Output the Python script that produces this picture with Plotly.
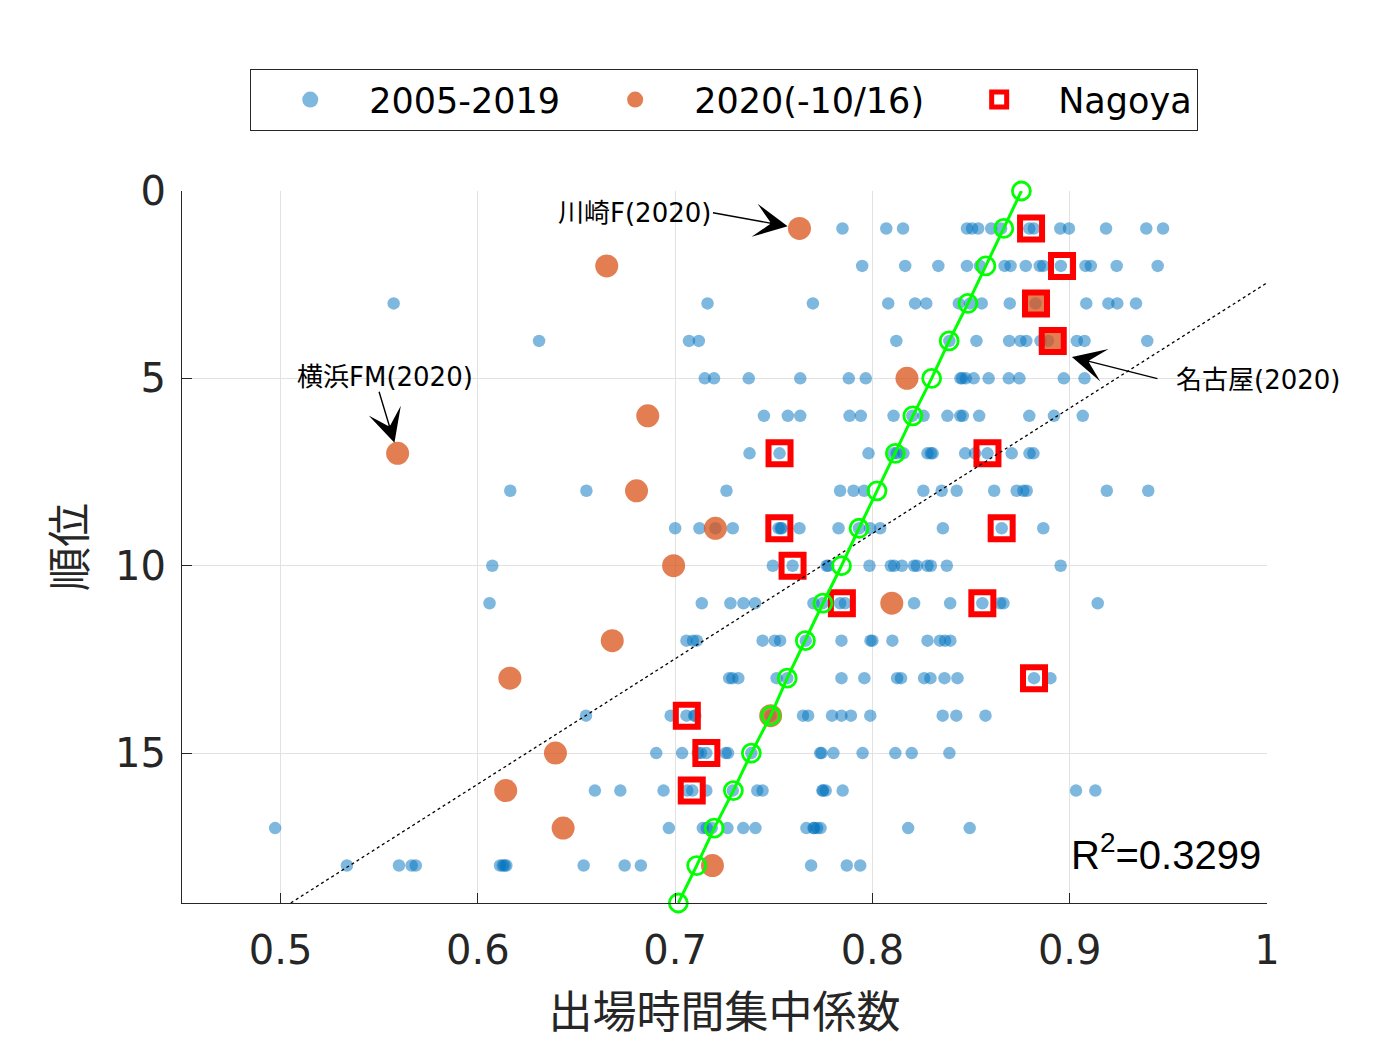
import plotly.graph_objects as go

# ---------------- data ----------------
ranks = list(range(1, 19))

# 2005-2019 points, one list per rank (1..18)
blue_rows = [
    [0.7848, 0.8070, 0.8155, 0.8479, 0.8505, 0.8536, 0.8602, 0.8652, 0.8795, 0.8818, 0.8952, 0.8996, 0.9184, 0.9388, 0.9473],
    [0.7948, 0.8166, 0.8334, 0.8479, 0.8545, 0.8670, 0.8700, 0.8777, 0.8848, 0.8866, 0.8955, 0.9080, 0.9107, 0.9238, 0.9446],
    [0.5573, 0.7164, 0.7698, 0.8080, 0.8216, 0.8273, 0.8438, 0.8495, 0.8554, 0.8696, 0.8827, 0.9084, 0.9196, 0.9241, 0.9336],
    [0.6310, 0.7070, 0.7120, 0.8121, 0.8390, 0.8527, 0.8693, 0.8750, 0.8780, 0.8852, 0.8890, 0.9036, 0.9075, 0.9393],
    [0.7150, 0.7197, 0.7373, 0.7634, 0.7880, 0.7966, 0.8446, 0.8455, 0.8473, 0.8513, 0.8589, 0.8691, 0.8745, 0.8970, 0.9075],
    [0.7450, 0.7571, 0.7634, 0.7884, 0.7941, 0.8107, 0.8202, 0.8259, 0.8380, 0.8445, 0.8458, 0.8541, 0.8795, 0.8920, 0.9066],
    [0.7377, 0.7529, 0.7980, 0.8108, 0.8123, 0.8157, 0.8279, 0.8296, 0.8305, 0.8470, 0.8520, 0.8583, 0.8706, 0.8796, 0.8816],
    [0.6164, 0.6550, 0.7260, 0.7836, 0.7904, 0.7958, 0.8258, 0.8351, 0.8427, 0.8617, 0.8731, 0.8765, 0.8782, 0.9188, 0.9398],
    [0.7000, 0.7123, 0.7204, 0.7292, 0.7524, 0.7535, 0.7540, 0.7630, 0.7828, 0.7932, 0.7988, 0.8039, 0.8357, 0.8655, 0.8866],
    [0.6073, 0.7495, 0.7595, 0.7768, 0.7776, 0.7985, 0.8093, 0.8110, 0.8149, 0.8211, 0.8225, 0.8279, 0.8296, 0.8377, 0.8954],
    [0.6059, 0.7135, 0.7280, 0.7346, 0.7405, 0.7701, 0.7746, 0.7836, 0.7861, 0.8211, 0.8394, 0.8557, 0.8647, 0.8664, 0.9142],
    [0.7057, 0.7090, 0.7110, 0.7443, 0.7505, 0.7532, 0.7662, 0.7843, 0.7990, 0.8000, 0.8101, 0.8279, 0.8342, 0.8368, 0.8395],
    [0.7274, 0.7290, 0.7320, 0.7514, 0.7568, 0.7843, 0.7959, 0.8125, 0.8145, 0.8262, 0.8294, 0.8365, 0.8431, 0.8819, 0.8902],
    [0.6548, 0.6977, 0.7057, 0.7096, 0.7102, 0.7484, 0.7648, 0.7674, 0.7795, 0.7843, 0.7891, 0.7989, 0.8356, 0.8425, 0.8573],
    [0.6904, 0.7035, 0.7115, 0.7130, 0.7158, 0.7256, 0.7268, 0.7386, 0.7735, 0.7742, 0.7802, 0.7950, 0.8116, 0.8199, 0.8390],
    [0.6593, 0.6722, 0.6941, 0.7061, 0.7087, 0.7158, 0.7292, 0.7416, 0.7443, 0.7746, 0.7750, 0.7763, 0.7849, 0.9032, 0.9130],
    [0.4972, 0.6968, 0.7140, 0.7160, 0.7185, 0.7265, 0.7345, 0.7407, 0.7665, 0.7701, 0.7705, 0.7720, 0.7737, 0.8181, 0.8493],
    [0.5336, 0.5600, 0.5664, 0.5685, 0.6112, 0.6126, 0.6135, 0.6144, 0.6536, 0.6744, 0.6826, 0.7689, 0.7870, 0.7938],
]

# 2020 (to 10/16), ranks 1..18
orange_x = [0.7630, 0.6653, 0.8827, 0.8915, 0.8175, 0.6861, 0.5593, 0.6804, 0.7204,
            0.6992, 0.8098, 0.6681, 0.6162, 0.7484, 0.6393, 0.6141, 0.6432, 0.7189]

# Nagoya seasons
nagoya_rank = [1, 2, 3, 4, 7, 7, 9, 9, 10, 11, 11, 13, 14, 15, 16]
nagoya_x = [0.8804, 0.8961, 0.8829, 0.8914, 0.7529, 0.8583, 0.7528, 0.8655, 0.7595,
            0.7845, 0.8557, 0.8819, 0.7059, 0.7158, 0.7084]

# green line (circles at each rank 0..19)
fit_rank = list(range(0, 20))
fit_x = [0.8755, 0.8666, 0.8575, 0.8484, 0.8389, 0.8300, 0.8205, 0.8116, 0.8023, 0.7932,
         0.7843, 0.7749, 0.7660, 0.7568, 0.7484, 0.7386, 0.7295, 0.7198, 0.7109, 0.7016]

# dotted regression line endpoints
trend_x = [0.50, 1.00]
trend_rank = [19.17, 2.45]

x_tickvals = [0.5, 0.6, 0.7, 0.8, 0.9, 1.0]
x_ticktext = ["0.5", "0.6", "0.7", "0.8", "0.9", "1"]
y_tickvals = [0, 5, 10, 15]

legend_names = ["2005-2019", "2020(-10/16)", "Nagoya"]
r2_text = "R<sup>2</sup>=0.3299"

# ---------------- figure ----------------
blue_x, blue_y = [], []
for r, row in zip(ranks, blue_rows):
    blue_x += row
    blue_y += [r] * len(row)

FONT = "DejaVu Sans, Noto Sans CJK JP, sans-serif"
DARK = "#262626"
BLUE = "rgba(0,114,189,0.5)"
ORANGE = "rgba(217,83,25,0.75)"
RED = "#ff0000"
GREEN = "#00ff00"

fig = go.Figure()
fig.add_trace(go.Scatter(
    x=blue_x, y=blue_y, mode="markers", name=legend_names[0], showlegend=False,
    marker=dict(size=12.5, color=BLUE, line=dict(width=0)),
))
fig.add_trace(go.Scatter(
    x=orange_x, y=ranks, mode="markers", name=legend_names[1], showlegend=False,
    marker=dict(size=23, color=ORANGE, line=dict(width=0)),
))
fig.add_trace(go.Scatter(
    x=nagoya_x, y=nagoya_rank, mode="markers", name=legend_names[2], showlegend=False,
    marker=dict(symbol="square-open", size=22, color=RED, line=dict(width=6, color=RED)),
))
fig.add_trace(go.Scatter(
    x=trend_x, y=trend_rank, mode="lines", showlegend=False, hoverinfo="skip",
    line=dict(color="black", width=1.3, dash="dot"),
))
fig.add_trace(go.Scatter(
    x=fit_x, y=fit_rank, mode="lines+markers", showlegend=False,
    line=dict(color=GREEN, width=3),
    marker=dict(symbol="circle-open", size=18, color=GREEN, line=dict(width=2.8, color=GREEN)),
    cliponaxis=False,
))

# legend entries (same series styles, legend-sized symbols)
fig.add_trace(go.Scatter(x=[None], y=[None], mode="markers", name=legend_names[0] + "\u00a0",
                         marker=dict(size=16, color=BLUE)))
fig.add_trace(go.Scatter(x=[None], y=[None], mode="markers", name=legend_names[1] + "\u00a0",
                         marker=dict(size=16, color=ORANGE)))
fig.add_trace(go.Scatter(x=[None], y=[None], mode="markers", name=legend_names[2],
                         marker=dict(symbol="square-open", size=15, color=RED,
                                     line=dict(width=5, color=RED))))

# R^2 background box
fig.add_shape(type="rect", xref="paper", yref="paper", x0=0.8194, x1=1.0, y0=0.003, y1=0.1334,
              fillcolor="white", line=dict(width=0), layer="above")
fig.add_annotation(xref="paper", yref="paper", x=0.9965, y=0.072, xanchor="right", yanchor="middle",
                   text=r2_text, showarrow=False,
                   font=dict(family="Liberation Sans, Arial", size=40, color="black"))

# text labels
label_font = dict(family=FONT, size=26, color="black")
fig.add_annotation(x=0.6795, y=0.59, text="川崎F(2020)", showarrow=False, font=label_font,
                   xanchor="center", yanchor="middle")
fig.add_annotation(x=0.5527, y=4.96, text="横浜FM(2020)", showarrow=False, font=label_font,
                   xanchor="center", yanchor="middle")
fig.add_annotation(x=0.9954, y=5.04, text="名古屋(2020)", showarrow=False, font=label_font,
                   xanchor="center", yanchor="middle")

# arrows
arrow_common = dict(showarrow=True, text="", arrowhead=3, arrowsize=4.0, arrowwidth=1.4,
                    arrowcolor="black", axref="pixel", ayref="pixel")
fig.add_annotation(x=orange_x[0], y=1, ax=-88, ay=-16, standoff=12, **arrow_common)
fig.add_annotation(x=orange_x[6], y=7, ax=-19, ay=-63, standoff=11, **arrow_common)
fig.add_annotation(x=0.9011, y=4.43, ax=87, ay=22, standoff=0, **arrow_common)

axis_common = dict(
    showgrid=True, gridcolor="#e2e2e2", gridwidth=1, zeroline=False,
    showline=True, linecolor=DARK, linewidth=1.3, mirror=False,
    ticks="inside", ticklen=10, tickwidth=1.3, tickcolor=DARK,
    tickfont=dict(family=FONT, size=40, color=DARK),
)

# the page adds an 8px body margin, so the figure is sized to fit the 1400x1050 window
fig.update_layout(
    width=1384, height=1034,
    margin=dict(l=174, r=125, t=183, b=139),
    paper_bgcolor="white", plot_bgcolor="white",
    font=dict(family=FONT, color=DARK),
    xaxis=dict(range=[0.45, 1.0], tickvals=x_tickvals, ticktext=x_ticktext,
               title=dict(text="出場時間集中係数", font=dict(family=FONT, size=44, color=DARK), standoff=25),
               ticklabelstandoff=12, **axis_common),
    yaxis=dict(range=[19, 0], tickvals=y_tickvals,
               title=dict(text="順位", font=dict(family=FONT, size=44, color=DARK), standoff=14),
               ticklabelstandoff=7, **axis_common),
    legend=dict(orientation="h", x=0.4995, y=1.1713, xanchor="center", yanchor="top",
                bordercolor=DARK, borderwidth=1.3, bgcolor="white",
                font=dict(family=FONT, size=35, color="black"), itemwidth=108),
    showlegend=True,
)

fig.write_html("out.html")
